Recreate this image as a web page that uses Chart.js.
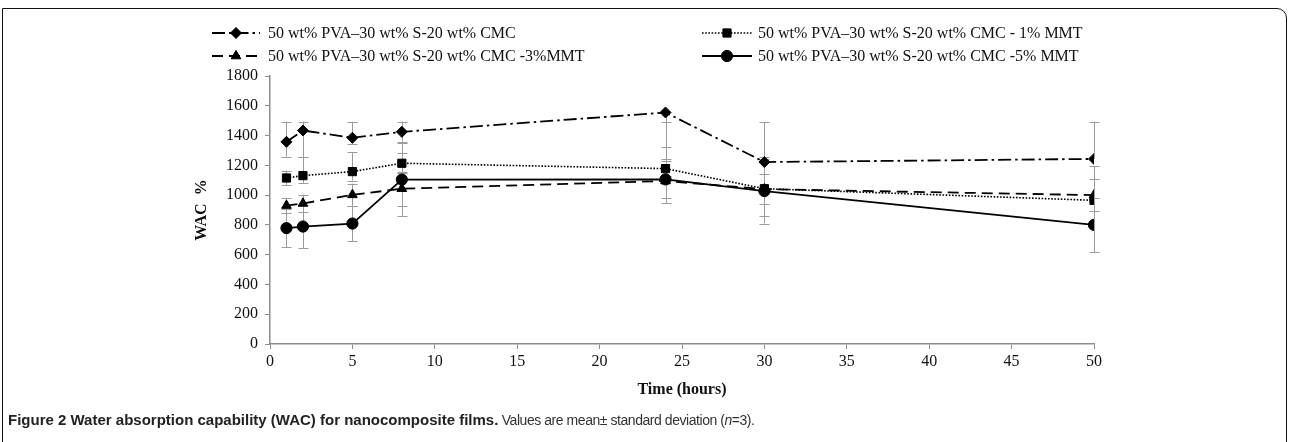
<!DOCTYPE html>
<html>
<head>
<meta charset="utf-8">
<script src="https://cdn.jsdelivr.net/npm/chart.js@4/dist/chart.umd.min.js"></script>
<style>
html,body{margin:0;padding:0;background:#fff;}
#wrap{position:relative;width:1289px;height:442px;overflow:hidden;background:#fff;}
#frame{position:absolute;left:2px;top:8px;width:1285px;height:470px;border:1.5px solid #111;border-top-right-radius:10px;box-sizing:border-box;}
#box{position:absolute;left:0;top:0;width:1289px;height:442px;}
#cap{position:absolute;left:8px;top:411px;font-family:"Liberation Sans",Arial,sans-serif;line-height:18px;color:#222;white-space:nowrap;}
#cap b{font-size:15px;}
#cap span{font-size:14px;letter-spacing:-0.45px;color:#333;}
</style>
</head>
<body>
<div id="wrap">
  <div id="frame"></div>
  <div id="box"><canvas id="c"></canvas></div>
  <div id="cap"><b>Figure 2 Water absorption capability (WAC) for nanocomposite films.</b><span> Values are mean± standard deviation (<i>n</i>=3).</span></div>
</div>
<script>
// ---- data ----
const timeHours = [1, 2, 5, 8, 24, 30, 50];
const xTicks = [0, 5, 10, 15, 20, 25, 30, 35, 40, 45, 50];
const yTicks = [0, 200, 400, 600, 800, 1000, 1200, 1400, 1600, 1800];

const labelBase = '50 wt% PVA\u201330 wt% S-20 wt% CMC';
const label1 = '50 wt% PVA\u201330 wt% S-20 wt% CMC - 1% MMT';
const label3 = '50 wt% PVA\u201330 wt% S-20 wt% CMC -3%MMT';
const label5 = '50 wt% PVA\u201330 wt% S-20 wt% CMC -5% MMT';

const wacBase = [1358, 1434, 1385, 1425, 1555, 1222, 1243];
const wacBaseErrPlus = [135, 60, 108, 68, 0, 270, 250];
const wacBaseErrMinus = [100, 177, 45, 65, 230, 0, 0];

const wac1 = [1115, 1131, 1158, 1214, 1178, 1043, 965];
const wac1ErrPlus = [50, 125, 130, 67, 314, 216, 230];
const wac1ErrMinus = [50, 50, 60, 67, 50, 180, 73];

const wac3 = [930, 944, 1002, 1043, 1095, 1040, 1000];
const wac3ErrPlus = [50, 60, 75, 113, 147, 103, 110];
const wac3ErrMinus = [50, 60, 75, 113, 147, 103, 110];

const wac5 = [778, 789, 809, 1104, 1106, 1027, 800];
const wac5ErrPlus = [126, 147, 120, 246, 124, 218, 182];
const wac5ErrMinus = [126, 147, 120, 246, 124, 218, 182];

// ---- helpers ----
const serif = '"Liberation Serif","Times New Roman",serif';
function pts(vals) { return timeHours.map((t, i) => ({x: t, y: vals[i]})); }

function drawMarker(ctx, style, r, x, y) {
  ctx.save();
  ctx.fillStyle = '#000'; ctx.strokeStyle = '#000'; ctx.lineWidth = 1; ctx.setLineDash([]);
  if (Chart.helpers && Chart.helpers.drawPoint) {
    Chart.helpers.drawPoint(ctx, {pointStyle: style, radius: r, borderWidth: 1, rotation: 0}, x, y);
  } else {
    ctx.beginPath(); ctx.arc(x, y, r, 0, Math.PI * 2); ctx.fill();
  }
  ctx.restore();
}

const errorBarPlugin = {
  id: 'errorBars',
  beforeDatasetsDraw(chart) {
    const {ctx, scales: {x, y}} = chart;
    ctx.save();
    ctx.strokeStyle = '#9c9c9c';
    ctx.lineWidth = 1;
    chart.data.datasets.forEach(ds => {
      ds.data.forEach((p, i) => {
        const px = Math.round(x.getPixelForValue(p.x)) + 0.5;
        const top = y.getPixelForValue(p.y + ds.errPlus[i]);
        const bot = y.getPixelForValue(p.y - ds.errMinus[i]);
        ctx.beginPath();
        ctx.moveTo(px, top); ctx.lineTo(px, bot);
        if (ds.errPlus[i] > 0) { ctx.moveTo(px - 5, Math.round(top) + 0.5); ctx.lineTo(px + 5, Math.round(top) + 0.5); }
        if (ds.errMinus[i] > 0) { ctx.moveTo(px - 5, Math.round(bot) + 0.5); ctx.lineTo(px + 5, Math.round(bot) + 0.5); }
        ctx.stroke();
      });
    });
    ctx.restore();
  }
};

const legendSlots = [
  {x1: 212, x2: 260, y: 33, tx: 268},
  {x1: 702, x2: 752, y: 33, tx: 758},
  {x1: 212, x2: 260, y: 56, tx: 268},
  {x1: 702, x2: 752, y: 56, tx: 758}
];

const legendPlugin = {
  id: 'lineLegend',
  afterDraw(chart) {
    const ctx = chart.ctx;
    chart.data.datasets.forEach((ds, i) => {
      const s = legendSlots[i];
      ctx.save();
      ctx.strokeStyle = '#000';
      ctx.lineWidth = ds.borderWidth;
      ctx.setLineDash(ds.borderDash || []);
      ctx.beginPath(); ctx.moveTo(s.x1, s.y); ctx.lineTo(s.x2, s.y); ctx.stroke();
      ctx.restore();
      drawMarker(ctx, ds.pointStyle, ds.pointRadius, (s.x1 + s.x2) / 2, s.y);
      ctx.save();
      ctx.fillStyle = '#111';
      ctx.font = '16px ' + serif;
      ctx.textBaseline = 'middle';
      ctx.textAlign = 'left';
      ctx.fillText(ds.label, s.tx, s.y + 1);
      ctx.restore();
    });
  }
};

function mkDs(label, vals, plus, minus, style, radius, dash, width) {
  return {
    label, data: pts(vals), errPlus: plus, errMinus: minus,
    borderColor: '#000', backgroundColor: '#000',
    pointBackgroundColor: '#000', pointBorderColor: '#000', pointBorderWidth: 1,
    pointStyle: style, pointRadius: radius, borderWidth: width, borderDash: dash,
    tension: 0, fill: false, showLine: true
  };
}

new Chart(document.getElementById('c'), {
  type: 'scatter',
  data: {
    datasets: [
      mkDs(labelBase, wacBase, wacBaseErrPlus, wacBaseErrMinus, 'rectRot', 5.5, [13, 4, 2.5, 4], 1.8),
      mkDs(label1, wac1, wac1ErrPlus, wac1ErrMinus, 'rect', 5.8, [1.6, 1.6], 1.6),
      mkDs(label3, wac3, wac3ErrPlus, wac3ErrMinus, 'triangle', 5.6, [11, 6], 1.8),
      mkDs(label5, wac5, wac5ErrPlus, wac5ErrMinus, 'circle', 5.6, [], 1.8)
    ]
  },
  options: {
    responsive: true, maintainAspectRatio: false, animation: false, events: [],
    layout: {padding: {left: 0, right: 195, top: 76, bottom: 0}},
    plugins: {legend: {display: false}, tooltip: {enabled: false}, title: {display: false}},
    scales: {
      x: {
        type: 'linear', min: 0, max: 50,
        afterBuildTicks(s) { s.ticks = xTicks.map(v => ({value: v})); },
        afterFit(s) { s.height = 98; },
        ticks: {color: '#111', font: {family: serif, size: 16}, padding: 3, maxRotation: 0, autoSkip: false,
                callback: v => String(v)},
        grid: {drawOnChartArea: false, drawTicks: true, tickLength: 5, color: '#8c8c8c', lineWidth: 1},
        border: {color: '#8c8c8c', width: 1.5},
        title: {display: true, text: 'Time (hours)', color: '#111', font: {family: serif, size: 16, weight: 'bold'}, padding: {top: 0, bottom: 43}}
      },
      y: {
        type: 'linear', min: 0, max: 1800,
        afterBuildTicks(s) { s.ticks = yTicks.map(v => ({value: v})); },
        afterFit(s) { s.width = 270; },
        ticks: {color: '#111', font: {family: serif, size: 16}, padding: 7, autoSkip: false,
                callback: v => String(v)},
        grid: {drawOnChartArea: false, drawTicks: true, tickLength: 5, color: '#8c8c8c', lineWidth: 1},
        border: {color: '#8c8c8c', width: 1.5},
        title: {display: true, text: 'WAC  %', color: '#111', font: {family: serif, size: 16, weight: 'bold'}, padding: {top: 192, bottom: 0}}
      }
    }
  },
  plugins: [errorBarPlugin, legendPlugin]
});
</script>
</body>
</html>
